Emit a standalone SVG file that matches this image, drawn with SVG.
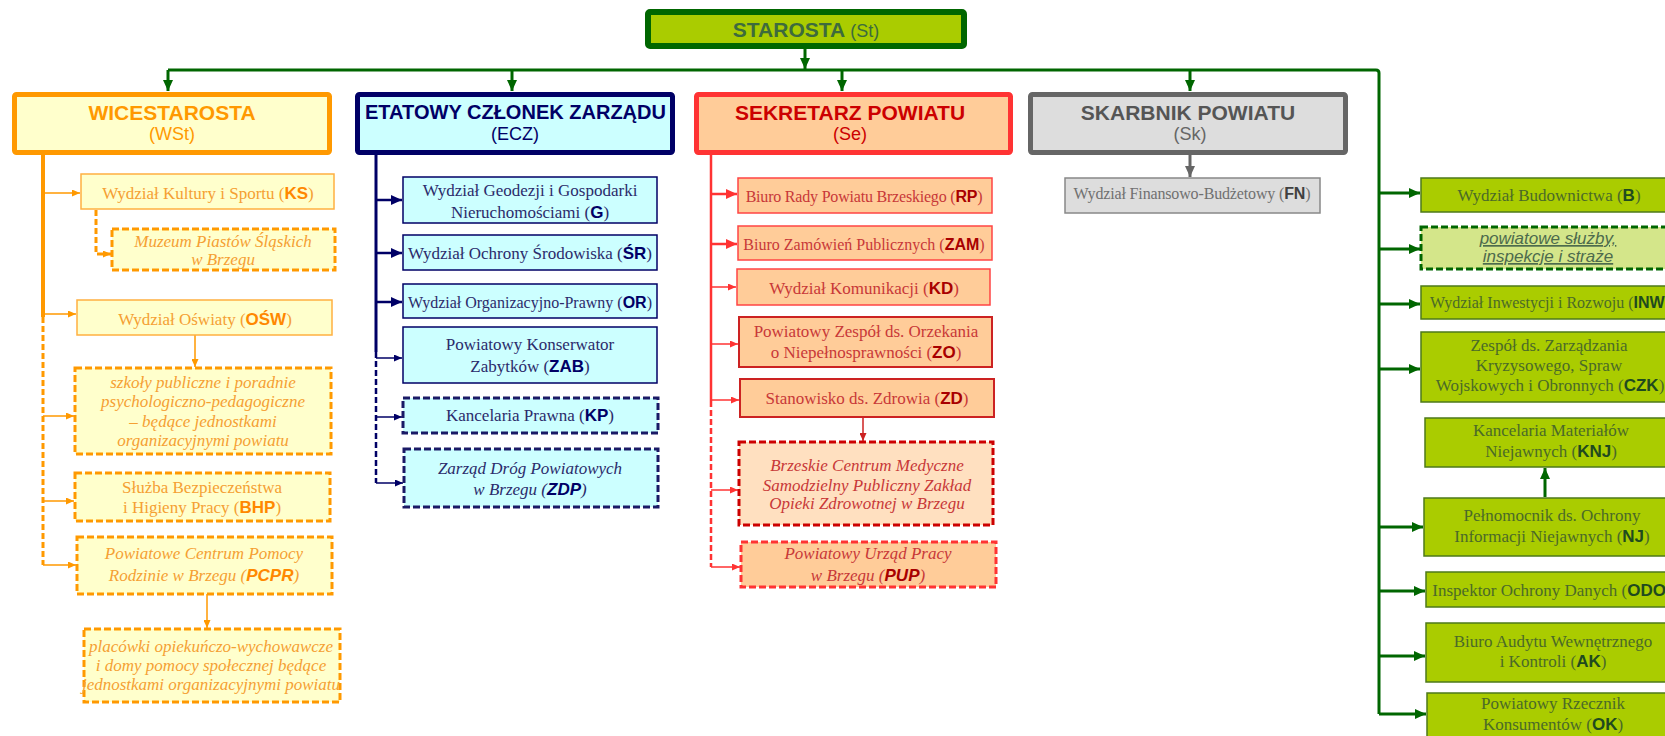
<svg xmlns="http://www.w3.org/2000/svg" width="1665" height="736" viewBox="0 0 1665 736">
<defs>
<style>
.t{font-family:"Liberation Serif","Times New Roman",serif;font-size:17px;text-anchor:middle}
.i{font-style:italic}
.c{font-family:"Liberation Sans",Arial,sans-serif;font-weight:bold}
.h{font-family:"Liberation Sans",Arial,sans-serif;font-weight:bold;font-size:21px;text-anchor:middle}
.hs{font-family:"Liberation Sans",Arial,sans-serif;font-size:18px;text-anchor:middle}
.o{fill:#F5A033}.o .c{fill:#FF8800}
.n{fill:#2B2B6B}.n .c{fill:#000066}
.r{fill:#C83838}.r .c{fill:#A80000}
.g{fill:#4A6A28}.g .c{fill:#1F4A1F}
.k{fill:#707070}.k .c{fill:#404040}
.bo{fill:#FFFFCC;stroke:#FFB040;stroke-width:1.5}
.bod{fill:#FFFFCC;stroke:#FF9900;stroke-width:3;stroke-dasharray:7 3}
.bn{fill:#CCFFFF;stroke:#000066;stroke-width:1.5}
.bnd{fill:#CCFFFF;stroke:#1A1A66;stroke-width:3;stroke-dasharray:7 3}
.br{fill:#FFCC99;stroke:#FF4444;stroke-width:1.5}
.brr{fill:#FFCC99;stroke:#CC2222;stroke-width:2}
.bg{fill:#AACC00;stroke:#4D7A1A;stroke-width:1.5}
.lg{fill:none;stroke:#006600;stroke-width:3}
.lo{fill:none;stroke:#FF9900;stroke-width:1.5}
.ln{fill:none;stroke:#000066}
.lr{fill:none;stroke:#FF3333}
.s16{font-size:16px}
</style>
<marker id="mG" markerUnits="userSpaceOnUse" markerWidth="12" markerHeight="10" refX="11" refY="5" orient="auto"><path d="M0,0 L11,5 L0,10 z" fill="#006600"/></marker>
<marker id="mO" markerUnits="userSpaceOnUse" markerWidth="9" markerHeight="7" refX="8" refY="3.5" orient="auto"><path d="M0,0 L8,3.5 L0,7 z" fill="#FF9900"/></marker>
<marker id="mN" markerUnits="userSpaceOnUse" markerWidth="12" markerHeight="10" refX="11" refY="5" orient="auto"><path d="M0,0 L11,5 L0,10 z" fill="#000066"/></marker>
<marker id="mNs" markerUnits="userSpaceOnUse" markerWidth="9" markerHeight="7" refX="8" refY="3.5" orient="auto"><path d="M0,0 L8,3.5 L0,7 z" fill="#000066"/></marker>
<marker id="mR" markerUnits="userSpaceOnUse" markerWidth="12" markerHeight="10" refX="11" refY="5" orient="auto"><path d="M0,0 L11,5 L0,10 z" fill="#FF3333"/></marker>
<marker id="mRs" markerUnits="userSpaceOnUse" markerWidth="9" markerHeight="7" refX="8" refY="3.5" orient="auto"><path d="M0,0 L8,3.5 L0,7 z" fill="#FF3333"/></marker>
<marker id="mRd" markerUnits="userSpaceOnUse" markerWidth="9" markerHeight="7" refX="8" refY="3.5" orient="auto"><path d="M0,0 L8,3.5 L0,7 z" fill="#CC2222"/></marker>
<marker id="mK" markerUnits="userSpaceOnUse" markerWidth="12" markerHeight="10" refX="11" refY="5" orient="auto"><path d="M0,0 L11,5 L0,10 z" fill="#666666"/></marker>
</defs>
<rect width="1665" height="736" fill="#FFFFFF"/>

<g id="connectors">
  <path class="lg" d="M168,70 H1376 Q1379,70 1379,73 V714"/>
  <path class="lg" marker-end="url(#mG)" d="M805,49 V69"/>
  <path class="lg" marker-end="url(#mG)" d="M168,70 V91"/>
  <path class="lg" marker-end="url(#mG)" d="M512,70 V91"/>
  <path class="lg" marker-end="url(#mG)" d="M842,70 V91"/>
  <path class="lg" marker-end="url(#mG)" d="M1190,70 V91"/>
  <path class="lg" marker-end="url(#mG)" d="M1379,193 H1420"/>
  <path class="lg" marker-end="url(#mG)" d="M1379,249 H1420"/>
  <path class="lg" marker-end="url(#mG)" d="M1379,304 H1420"/>
  <path class="lg" marker-end="url(#mG)" d="M1379,369 H1420"/>
  <path class="lg" marker-end="url(#mG)" d="M1379,527 H1423"/>
  <path class="lg" marker-end="url(#mG)" d="M1379,591 H1425"/>
  <path class="lg" marker-end="url(#mG)" d="M1379,656 H1425"/>
  <path class="lg" marker-end="url(#mG)" d="M1379,714 H1426"/>
  <path class="lg" marker-end="url(#mG)" d="M1545,497 V468"/>

  <path fill="none" stroke="#FF9900" stroke-width="4" d="M43,155 V317"/>
  <path fill="none" stroke="#FF9900" stroke-width="3" stroke-dasharray="6 3" d="M43,317 V565"/>
  <path class="lo" marker-end="url(#mO)" d="M43,193 H80"/>
  <path class="lo" marker-end="url(#mO)" d="M43,314 H76"/>
  <path class="lo" marker-end="url(#mO)" d="M43,416 H74"/>
  <path class="lo" marker-end="url(#mO)" d="M43,501 H74"/>
  <path class="lo" marker-end="url(#mO)" d="M43,565 H76"/>
  <path fill="none" stroke="#FF9900" stroke-width="3" stroke-dasharray="6 3" marker-end="url(#mO)" d="M96,210 V254 H111"/>
  <path class="lo" marker-end="url(#mO)" d="M195,335 V367"/>
  <path class="lo" marker-end="url(#mO)" d="M207,594 V628"/>

  <path class="ln" stroke-width="3" d="M376,155 V352"/>
  <path class="ln" stroke-width="2.5" stroke-dasharray="6 3" d="M376,352 V483"/>
  <path class="ln" stroke-width="2.5" marker-end="url(#mN)" d="M376,200 H402"/>
  <path class="ln" stroke-width="2.5" marker-end="url(#mN)" d="M376,253 H402"/>
  <path class="ln" stroke-width="2.5" marker-end="url(#mN)" d="M376,302 H402"/>
  <path class="ln" stroke-width="1.5" marker-end="url(#mNs)" d="M376,358 H402"/>
  <path class="ln" stroke-width="1.5" marker-end="url(#mNs)" d="M376,417 H402"/>
  <path class="ln" stroke-width="1.5" marker-end="url(#mNs)" d="M376,483 H403"/>

  <path class="lr" stroke-width="2.5" d="M711,155 V401"/>
  <path class="lr" stroke-width="2.5" stroke-dasharray="6 3" d="M711,401 V567"/>
  <path class="lr" stroke-width="2.5" marker-end="url(#mR)" d="M711,194 H737"/>
  <path class="lr" stroke-width="2.5" marker-end="url(#mR)" d="M711,244 H737"/>
  <path class="lr" stroke-width="1.5" marker-end="url(#mRs)" d="M711,287 H736"/>
  <path class="lr" stroke-width="1.5" marker-end="url(#mRs)" d="M711,344 H738"/>
  <path class="lr" stroke-width="1.5" marker-end="url(#mRs)" d="M711,400 H739"/>
  <path class="lr" stroke-width="1.5" marker-end="url(#mRs)" d="M711,490 H738"/>
  <path class="lr" stroke-width="1.5" marker-end="url(#mRs)" d="M711,567 H740"/>
  <path fill="none" stroke="#CC2222" stroke-width="1.5" marker-end="url(#mRd)" d="M863,417 V441"/>

  <path fill="none" stroke="#666666" stroke-width="3" marker-end="url(#mK)" d="M1190,155 V177"/>
</g>

<g id="starosta">
  <rect x="648" y="12" width="316" height="34" rx="2" fill="#AACC00" stroke="#006600" stroke-width="6"/>
  <text x="806" y="37" text-anchor="middle" fill="#3D6B3D" font-family="Liberation Sans, Arial, sans-serif"><tspan font-weight="bold" font-size="21">STAROSTA</tspan><tspan font-size="18"> (St)</tspan></text>
</g>

<g id="wst">
  <rect x="14.5" y="94.5" width="315" height="58" rx="2" fill="#FFFFCC" stroke="#FF9900" stroke-width="5"/>
  <text class="h" x="172" y="120" fill="#FF9900">WICESTAROSTA</text>
  <text class="hs" x="172" y="140" fill="#FF9900">(WSt)</text>
</g>
<g id="ecz">
  <rect x="357.5" y="94.5" width="315" height="58" rx="2" fill="#CCFFFF" stroke="#000066" stroke-width="5"/>
  <text class="h" x="515.5" y="119" fill="#000066" textLength="301" lengthAdjust="spacingAndGlyphs">ETATOWY CZŁONEK ZARZĄDU</text>
  <text class="hs" x="515" y="140" fill="#000066">(ECZ)</text>
</g>
<g id="se">
  <rect x="696.5" y="94.5" width="314" height="58" rx="2" fill="#FFCC99" stroke="#FF3333" stroke-width="5"/>
  <text class="h" x="850" y="120" fill="#CC0000">SEKRETARZ POWIATU</text>
  <text class="hs" x="850" y="140" fill="#CC0000">(Se)</text>
</g>
<g id="sk">
  <rect x="1030.5" y="94.5" width="315" height="58" rx="2" fill="#DDDDDD" stroke="#666666" stroke-width="5"/>
  <text class="h" x="1188" y="120" fill="#555555">SKARBNIK POWIATU</text>
  <text class="hs" x="1190" y="140" fill="#666666">(Sk)</text>
</g>

<g id="ks"><rect class="bo" x="81" y="174" width="253" height="35"/>
  <text class="t o" x="208" y="199">Wydział Kultury i Sportu (<tspan class="c">KS</tspan>)</text></g>
<g id="muzeum"><rect class="bod" x="112" y="229" width="223" height="41"/>
  <text class="t o i" x="223" y="247">Muzeum Piastów Śląskich</text>
  <text class="t o i" x="223" y="265">w Brzegu</text></g>
<g id="osw"><rect class="bo" x="77" y="300" width="255" height="35"/>
  <text class="t o" x="205" y="325">Wydział Oświaty (<tspan class="c">OŚW</tspan>)</text></g>
<g id="szkoly"><rect class="bod" x="75" y="368" width="256" height="86"/>
  <text class="t o i" x="203" y="388">szkoły publiczne i poradnie</text>
  <text class="t o i" x="203" y="407">psychologiczno-pedagogiczne</text>
  <text class="t o i" x="203" y="427">– będące jednostkami</text>
  <text class="t o i" x="203" y="446">organizacyjnymi powiatu</text></g>
<g id="bhp"><rect class="bod" x="75" y="473" width="255" height="48"/>
  <text class="t o" x="202" y="493">Służba Bezpieczeństwa</text>
  <text class="t o" x="202" y="513">i Higieny Pracy (<tspan class="c">BHP</tspan>)</text></g>
<g id="pcpr"><rect class="bod" x="77" y="537" width="255" height="57"/>
  <text class="t o i" x="204" y="559">Powiatowe Centrum Pomocy</text>
  <text class="t o i" x="204" y="581">Rodzinie w Brzegu (<tspan class="c">PCPR</tspan>)</text></g>
<g id="placowki"><rect class="bod" x="84" y="629" width="256" height="73"/>
  <text class="t o i" x="211" y="652">placówki opiekuńczo-wychowawcze</text>
  <text class="t o i" x="211" y="671">i domy pomocy społecznej będące</text>
  <text class="t o i" x="211" y="690">jednostkami organizacyjnymi powiatu</text></g>

<g id="g"><rect class="bn" x="403" y="177" width="254" height="46"/>
  <text class="t n" x="530" y="196">Wydział Geodezji i Gospodarki</text>
  <text class="t n" x="530" y="218">Nieruchomościami (<tspan class="c">G</tspan>)</text></g>
<g id="sr"><rect class="bn" x="403" y="235" width="254" height="35"/>
  <text class="t n" x="530" y="259">Wydział Ochrony Środowiska (<tspan class="c">ŚR</tspan>)</text></g>
<g id="or"><rect class="bn" x="403" y="284" width="254" height="34"/>
  <text class="t n s16" x="530" y="308">Wydział Organizacyjno-Prawny (<tspan class="c">OR</tspan>)</text></g>
<g id="zab"><rect class="bn" x="403" y="327" width="254" height="56"/>
  <text class="t n" x="530" y="350">Powiatowy Konserwator</text>
  <text class="t n" x="530" y="372">Zabytków (<tspan class="c">ZAB</tspan>)</text></g>
<g id="kp"><rect class="bnd" x="403" y="398" width="255" height="35"/>
  <text class="t n" x="530" y="421">Kancelaria Prawna (<tspan class="c">KP</tspan>)</text></g>
<g id="zdp"><rect class="bnd" x="404" y="449" width="254" height="58"/>
  <text class="t n i" x="530" y="474">Zarząd Dróg Powiatowych</text>
  <text class="t n i" x="530" y="495">w Brzegu (<tspan class="c">ZDP</tspan>)</text></g>

<g id="rp"><rect class="br" x="738" y="178" width="254" height="35"/>
  <text class="t r s16" x="864" y="202" letter-spacing="-0.2">Biuro Rady Powiatu Brzeskiego (<tspan class="c">RP</tspan>)</text></g>
<g id="zam"><rect class="br" x="738" y="226" width="254" height="34"/>
  <text class="t r s16" x="864" y="250">Biuro Zamówień Publicznych (<tspan class="c">ZAM</tspan>)</text></g>
<g id="kd"><rect class="br" x="737" y="269" width="253" height="36"/>
  <text class="t r" x="864" y="294">Wydział Komunikacji (<tspan class="c">KD</tspan>)</text></g>
<g id="zo"><rect class="brr" x="739" y="317" width="253" height="50"/>
  <text class="t r" x="866" y="337">Powiatowy Zespół ds. Orzekania</text>
  <text class="t r" x="866" y="358">o Niepełnosprawności (<tspan class="c">ZO</tspan>)</text></g>
<g id="zd"><rect class="brr" x="740" y="379" width="254" height="38"/>
  <text class="t r" x="867" y="404">Stanowisko ds. Zdrowia (<tspan class="c">ZD</tspan>)</text></g>
<g id="bcm"><rect x="739" y="442" width="254" height="83" fill="#FFE0C0" stroke="#CC0000" stroke-width="3" stroke-dasharray="7 3"/>
  <text class="t r i" x="867" y="471">Brzeskie Centrum Medyczne</text>
  <text class="t r i" x="867" y="491">Samodzielny Publiczny Zakład</text>
  <text class="t r i" x="867" y="509">Opieki Zdrowotnej w Brzegu</text></g>
<g id="pup"><rect x="741" y="542" width="255" height="45" fill="#FFCC99" stroke="#FF3333" stroke-width="3" stroke-dasharray="7 3"/>
  <text class="t r i" x="868" y="559">Powiatowy Urząd Pracy</text>
  <text class="t r i" x="868" y="581">w Brzegu (<tspan class="c">PUP</tspan>)</text></g>

<g id="fn"><rect x="1065" y="178" width="255" height="35" fill="#DDDDDD" stroke="#888888" stroke-width="1.5"/>
  <text class="t k s16" x="1192" y="199" letter-spacing="-0.15">Wydział Finansowo-Budżetowy (<tspan class="c">FN</tspan>)</text></g>

<g id="b"><rect class="bg" x="1421" y="178" width="270" height="34"/>
  <text class="t g" x="1549" y="201">Wydział Budownictwa (<tspan class="c">B</tspan>)</text></g>
<g id="sluzby"><rect x="1421" y="227" width="270" height="42" fill="#D4E68A" stroke="#006600" stroke-width="3" stroke-dasharray="7 3"/>
  <text x="1548" y="244" text-anchor="middle" font-family="Liberation Sans, Arial, sans-serif" font-size="17" font-style="italic" text-decoration="underline" fill="#4D6B4D">powiatowe służby,</text>
  <text x="1548" y="262" text-anchor="middle" font-family="Liberation Sans, Arial, sans-serif" font-size="17" font-style="italic" text-decoration="underline" fill="#4D6B4D">inspekcje i straże</text></g>
<g id="inw"><rect class="bg" x="1421" y="286" width="270" height="33"/>
  <text class="t g s16" x="1550" y="308">Wydział Inwestycji i Rozwoju (<tspan class="c">INW</tspan>)</text></g>
<g id="czk"><rect class="bg" x="1421" y="332" width="270" height="70"/>
  <text class="t g" x="1549" y="351">Zespół ds. Zarządzania</text>
  <text class="t g" x="1549" y="371">Kryzysowego, Spraw</text>
  <text class="t g" x="1550" y="391">Wojskowych i Obronnych (<tspan class="c">CZK</tspan>)</text></g>
<g id="knj"><rect class="bg" x="1425" y="418" width="270" height="49"/>
  <text class="t g" x="1551" y="436">Kancelaria Materiałów</text>
  <text class="t g" x="1551" y="457">Niejawnych (<tspan class="c">KNJ</tspan>)</text></g>
<g id="nj"><rect class="bg" x="1424" y="498" width="270" height="58"/>
  <text class="t g" x="1552" y="521">Pełnomocnik ds. Ochrony</text>
  <text class="t g" x="1552" y="542">Informacji Niejawnych (<tspan class="c">NJ</tspan>)</text></g>
<g id="odo"><rect class="bg" x="1426" y="572" width="270" height="35"/>
  <text class="t g" x="1552" y="596" font-size="16.5">Inspektor Ochrony Danych (<tspan class="c">ODO</tspan>)</text></g>
<g id="ak"><rect class="bg" x="1426" y="623" width="270" height="59"/>
  <text class="t g" x="1553" y="647">Biuro Audytu Wewnętrznego</text>
  <text class="t g" x="1553" y="667">i Kontroli (<tspan class="c">AK</tspan>)</text></g>
<g id="ok"><rect class="bg" x="1427" y="693" width="270" height="70"/>
  <text class="t g" x="1553" y="709">Powiatowy Rzecznik</text>
  <text class="t g" x="1553" y="730">Konsumentów (<tspan class="c">OK</tspan>)</text></g>
</svg>
